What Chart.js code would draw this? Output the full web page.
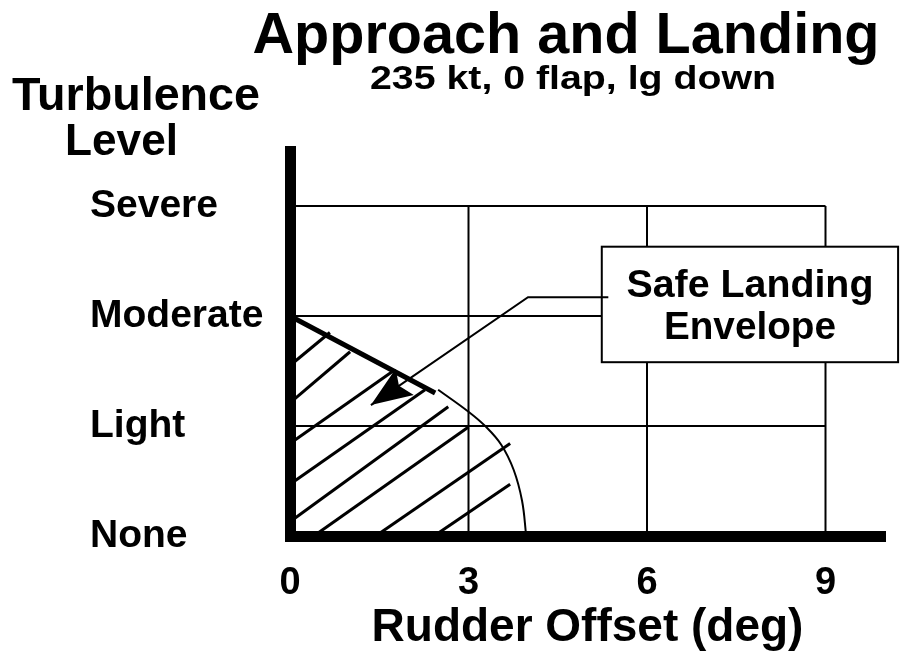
<!DOCTYPE html>
<html>
<head>
<meta charset="utf-8">
<title>Approach and Landing</title>
<script src="https://cdn.jsdelivr.net/npm/chart.js@4/dist/chart.umd.min.js"></script>
<style>
  html, body { margin: 0; padding: 0; background: #ffffff; }
  canvas { display: block; }
</style>
</head>
<body>
<canvas id="c" width="900" height="659"></canvas>
<script>
// ---------------- data ----------------
const chartTitle = 'Approach and Landing';
const chartSubtitle = '235 kt, 0 flap, lg down';
const yTitleLines = ['Turbulence', 'Level'];
const xAxisTitle = 'Rudder Offset (deg)';
const boxLines = ['Safe Landing', 'Envelope'];

const yLevels = ['None', 'Light', 'Moderate', 'Severe'];   // values 0..3
const xTickValues = [0, 3, 6, 9];

// grid lines (within 0..9 x 0..3)
const gridXValues = [3, 6, 9];
const gridYValues = [1, 2, 3];
const gridXMax = 9;
const gridYMax = 3;

// envelope upper edge (thick line)
const edgeX = [0, 2.44];
const edgeY = [2.0, 1.30];

// envelope outer curve (thin)
const curveX = [2.49, 3.00, 3.28, 3.55, 3.76, 3.90, 3.97];
const curveY = [1.33, 1.13, 1.00, 0.83, 0.60, 0.32, 0.00];

// hatch segments (start / end)
const hatchStartX = [0, 0, 0, 0, 0, 0.40, 1.44, 2.42];
const hatchStartY = [1.55, 1.21, 0.84, 0.47, 0.13, 0, 0, 0];
const hatchEndX   = [0.67, 1.01, 1.71, 2.27, 2.66, 3.00, 3.70, 3.70];
const hatchEndY   = [1.85, 1.675, 1.49, 1.33, 1.175, 0.99, 0.84, 0.47];

// leader line from the label box to the arrow tip
const leaderX = [5.35, 4.00, 1.36];
const leaderY = [2.17, 2.17, 1.19];

// ---------------- chart ----------------
const FONT = "'Liberation Sans', Arial, Helvetica, sans-serif";
Chart.defaults.font.family = FONT;
Chart.defaults.color = '#000';

const pts = (xs, ys) => xs.map((v, i) => ({ x: v, y: ys[i] }));
const lineDs = (data, width, extra) => Object.assign({
  data, showLine: true, pointRadius: 0, pointHoverRadius: 0,
  borderColor: '#000', backgroundColor: '#000', borderWidth: width,
  fill: false, tension: 0, clip: false
}, extra || {});

const datasets = [];
datasets.push(lineDs(pts(leaderX, leaderY), 2));                       // 0 leader
datasets.push(lineDs(pts(edgeX, edgeY), 5));                           // 1 edge
datasets.push(lineDs(pts(curveX, curveY), 2, { tension: 0.4 }));       // 2 curve
hatchStartX.forEach((sx, i) => {
  datasets.push(lineDs([{ x: sx, y: hatchStartY[i] }, { x: hatchEndX[i], y: hatchEndY[i] }], 3));
});
gridYValues.forEach(v => datasets.push(lineDs([{ x: 0, y: v }, { x: gridXMax, y: v }], 2)));
gridXValues.forEach(v => datasets.push(lineDs([{ x: v, y: 0 }, { x: v, y: gridYMax }], 2)));

function drawText(ctx, text, x, y, size, align, targetWidth) {
  ctx.save();
  ctx.font = 'bold ' + size + 'px ' + FONT;
  ctx.fillStyle = '#000';
  ctx.textBaseline = 'alphabetic';
  const w = ctx.measureText(text).width;
  const sx = targetWidth ? targetWidth / w : 1;
  ctx.translate(x, y);
  ctx.scale(sx, 1);
  ctx.textAlign = align;
  ctx.fillText(text, 0, 0);
  ctx.restore();
}

const annot = {
  id: 'annot',
  beforeDatasetDraw(chart, args) {
    if (args.index !== 0) return;
    const { ctx, scales: { x, y } } = chart;
    const l = x.getPixelForValue(5.24), r = x.getPixelForValue(10.22);
    const t = y.getPixelForValue(2.63), b = y.getPixelForValue(1.58);
    ctx.save();
    ctx.fillStyle = '#fff';
    ctx.fillRect(l, t, r - l, b - t);
    ctx.lineWidth = 2;
    ctx.strokeStyle = '#000';
    ctx.strokeRect(l, t, r - l, b - t);
    ctx.restore();
    const cx = (l + r) / 2;
    drawText(ctx, boxLines[0], cx, t + 50, 38, 'center', 247);
    drawText(ctx, boxLines[1], cx, t + 92, 38, 'center', 172);
  },
  afterDatasetDraw(chart, args) {
    if (args.index !== 0) return;
    const { ctx } = chart;
    const p = chart.getDatasetMeta(0).data;
    const a = p[p.length - 2], tip = p[p.length - 1];
    const ang = Math.atan2(tip.y - a.y, tip.x - a.x);
    const ux = Math.cos(ang), uy = Math.sin(ang);
    const nx = -uy, ny = ux;
    const L = 41, W = 16, notch = 7;
    const bx = tip.x - ux * L, by = tip.y - uy * L;
    ctx.save();
    ctx.fillStyle = '#000';
    ctx.beginPath();
    ctx.moveTo(tip.x, tip.y);
    ctx.lineTo(bx + nx * W, by + ny * W);
    ctx.lineTo(tip.x - ux * (L - notch), tip.y - uy * (L - notch));
    ctx.lineTo(bx - nx * W, by - ny * W);
    ctx.closePath();
    ctx.fill();
    ctx.restore();
  },
  afterDraw(chart) {
    const { ctx } = chart;
    drawText(ctx, chartTitle, 566, 53, 57, 'center', 627);
    drawText(ctx, chartSubtitle, 370, 89, 34, 'left', 406);
    drawText(ctx, yTitleLines[0], 12, 110, 46, 'left', 248);
    drawText(ctx, yTitleLines[1], 65, 155, 44, 'left', 113);
  }
};

new Chart(document.getElementById('c'), {
  type: 'scatter',
  data: { datasets },
  options: {
    responsive: false,
    animation: false,
    events: [],
    layout: { padding: { left: 90, right: 15, top: 151, bottom: 3 } },
    plugins: {
      legend: { display: false },
      tooltip: { enabled: false },
      title: { display: false }
    },
    scales: {
      x: {
        type: 'linear', min: 0, max: 10,
        grid: { display: false, drawTicks: false, tickLength: 0 },
        border: { display: true, width: 11, color: '#000' },
        afterBuildTicks: s => { s.ticks = xTickValues.map(v => ({ value: v })); },
        afterFit: s => { s.height = 120; },
        ticks: {
          autoSkip: false, padding: 25, color: '#000', maxRotation: 0,
          font: { size: 38, weight: 'bold' },
          callback: v => String(v)
        },
        title: {
          display: true, text: xAxisTitle, color: '#000', padding: 0,
          font: { size: 46, weight: 'bold' }
        }
      },
      y: {
        type: 'linear', min: 0, max: 3.5,
        grid: { display: false, drawTicks: false, tickLength: 0 },
        border: { display: true, width: 11, color: '#000' },
        afterBuildTicks: s => { s.ticks = yLevels.map((_, i) => ({ value: i })); },
        afterFit: s => { s.width = 200; },
        ticks: {
          autoSkip: false, crossAlign: 'far', padding: 0, color: '#000',
          font: { size: 39, weight: 'bold' },
          callback: v => yLevels[Math.round(v)]
        }
      }
    }
  },
  plugins: [annot]
});
</script>
</body>
</html>
